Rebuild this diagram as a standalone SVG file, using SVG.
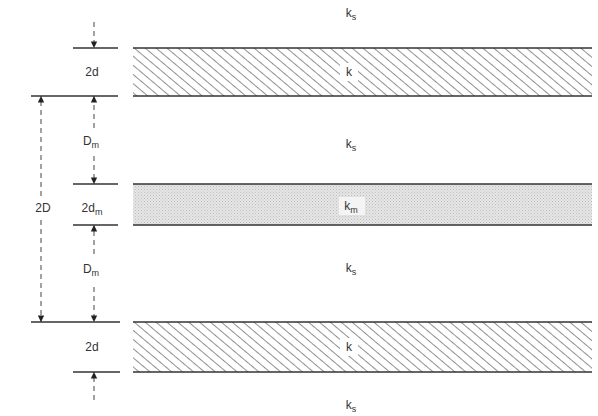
<svg xmlns="http://www.w3.org/2000/svg" width="598" height="416" viewBox="0 0 598 416">
<style>
.t{font-family:"Liberation Sans",Arial,sans-serif;font-size:12px;fill:#333;text-anchor:middle}
.s{font-size:9px}
.ln{stroke:#333;stroke-width:1.4;fill:none}
.dash{stroke:#444;stroke-width:1;stroke-dasharray:5,4;fill:none}
.slab{stroke:none}
</style>
<defs>
<pattern id="hatch" width="7" height="7" patternUnits="userSpaceOnUse" patternTransform="rotate(-50)">
<rect width="7" height="7" fill="#fff"/>
<line x1="0" y1="0" x2="0" y2="7" stroke="#555" stroke-width="1.3"/>
</pattern>
<pattern id="dots" width="3" height="3" patternUnits="userSpaceOnUse">
<rect width="3" height="3" fill="#e6e6e6"/>
<rect width="1" height="1" fill="#bdbdbd"/>
<rect x="1.5" y="1.5" width="1" height="1" fill="#c8c8c8"/>
</pattern>
<marker id="ah" viewBox="0 0 8 10" refX="8" refY="5" markerWidth="7" markerHeight="8" orient="auto" markerUnits="userSpaceOnUse">
<path d="M0,1 L8,5 L0,9 Z" fill="#222"/>
</marker>
</defs>
<rect width="598" height="416" fill="#fff"/>

<g id="slab-top">
<rect class="slab" x="133" y="48" width="459" height="48" fill="url(#hatch)"/>
<line class="ln" x1="133" y1="48" x2="592" y2="48"/>
<line class="ln" x1="133" y1="96" x2="592" y2="96"/>
<rect x="340" y="63" width="18" height="18" fill="#fff"/>
<text class="t" x="349" y="76">k</text>
</g>

<g id="slab-middle">
<rect class="slab" x="133" y="184" width="459" height="41" fill="url(#dots)"/>
<line class="ln" x1="133" y1="184" x2="592" y2="184"/>
<line class="ln" x1="133" y1="225" x2="592" y2="225"/>
<rect x="339" y="197" width="26" height="18" fill="#f4f4f4"/>
<text class="t" x="351" y="210">k<tspan class="s" dy="3">m</tspan></text>
</g>

<g id="slab-bottom">
<rect class="slab" x="133" y="322" width="459" height="50" fill="url(#hatch)"/>
<line class="ln" x1="133" y1="322" x2="592" y2="322"/>
<line class="ln" x1="133" y1="372" x2="592" y2="372"/>
<rect x="340" y="338" width="18" height="18" fill="#fff"/>
<text class="t" x="349" y="351">k</text>
</g>

<g id="labels-medium">
<text class="t" x="351" y="17">k<tspan class="s" dy="3">s</tspan></text>
<text class="t" x="351" y="148">k<tspan class="s" dy="3">s</tspan></text>
<text class="t" x="351" y="272">k<tspan class="s" dy="3">s</tspan></text>
<text class="t" x="351" y="409">k<tspan class="s" dy="3">s</tspan></text>
</g>

<g id="dimension-lines">
<line class="ln" x1="73" y1="48" x2="118" y2="48"/>
<line class="ln" x1="31" y1="96" x2="118" y2="96"/>
<line class="ln" x1="73" y1="184" x2="118" y2="184"/>
<line class="ln" x1="73" y1="225" x2="118" y2="225"/>
<line class="ln" x1="31" y1="322" x2="120" y2="322"/>
<line class="ln" x1="73" y1="372" x2="120" y2="372"/>
</g>

<g id="dimension-labels">
<text class="t" x="92" y="76">2d</text>
<text class="t" x="91" y="145">D<tspan class="s" dy="3">m</tspan></text>
<text class="t" x="92" y="212">2d<tspan class="s" dy="3">m</tspan></text>
<text class="t" x="91" y="273">D<tspan class="s" dy="3">m</tspan></text>
<text class="t" x="92" y="351">2d</text>
<text class="t" x="43" y="212">2D</text>
</g>

<g id="connectors">
<line class="dash" x1="94" y1="22" x2="94" y2="48" marker-end="url(#ah)"/>
<line class="dash" x1="94" y1="128" x2="94" y2="96" marker-end="url(#ah)"/>
<line class="dash" x1="94" y1="156" x2="94" y2="184" marker-end="url(#ah)"/>
<line class="dash" x1="94" y1="254" x2="94" y2="225" marker-end="url(#ah)"/>
<line class="dash" x1="94" y1="287" x2="94" y2="322" marker-end="url(#ah)"/>
<line class="dash" x1="94" y1="400" x2="94" y2="372" marker-end="url(#ah)"/>
<line class="dash" x1="41" y1="196" x2="41" y2="96" marker-end="url(#ah)"/>
<line class="dash" x1="41" y1="220" x2="41" y2="322" marker-end="url(#ah)"/>
</g>
</svg>
